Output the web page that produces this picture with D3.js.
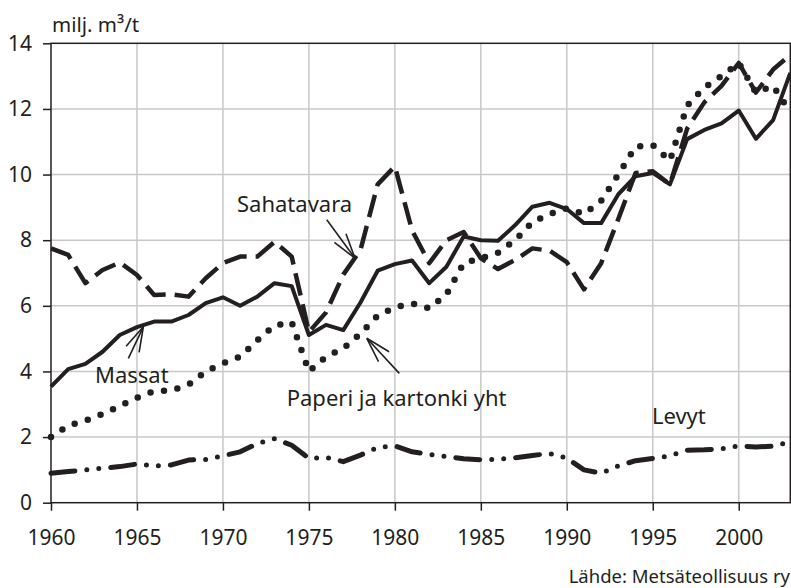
<!DOCTYPE html>
<html>
<head>
<meta charset="utf-8">
<script src="https://cdn.jsdelivr.net/npm/d3@7"></script>
<style>
  body { margin: 0; background: #fff; }
  text { font-family: "Noto Sans", sans-serif; fill: #231f20; }
</style>
</head>
<body>
<div id="chart"></div>
<script>
// vuodet ja sarjat (milj. m3 / milj. t)
const years = d3.range(1960, 2004);
const massat = [3.54, 4.07, 4.23, 4.6, 5.11, 5.35, 5.52, 5.52, 5.72, 6.08, 6.26, 6.0, 6.28, 6.69, 6.6, 5.11, 5.42, 5.26, 6.1, 7.07, 7.27, 7.38, 6.69, 7.19, 8.11, 8.0, 7.98, 8.46, 9.02, 9.14, 8.95, 8.52, 8.52, 9.4, 9.95, 10.05, 9.7, 11.08, 11.36, 11.56, 11.95, 11.09, 11.66, 13.1];
const sahatavara = [7.75, 7.55, 6.69, 7.09, 7.32, 6.94, 6.33, 6.35, 6.28, 6.84, 7.3, 7.5, 7.5, 7.95, 7.5, 5.2, 5.8, 6.95, 7.7, 9.7, 10.25, 8.3, 7.3, 8.0, 8.25, 7.45, 7.12, 7.4, 7.75, 7.68, 7.33, 6.5, 7.3, 8.65, 10.05, 10.1, 9.7, 11.4, 12.2, 12.7, 13.4, 12.5, 13.2, 13.65];
const paperi = [2.0, 2.35, 2.5, 2.7, 2.95, 3.2, 3.4, 3.42, 3.6, 4.0, 4.25, 4.45, 4.95, 5.4, 5.5, 4.0, 4.45, 4.7, 5.15, 5.7, 5.95, 6.07, 5.92, 6.35, 7.3, 7.45, 7.62, 8.0, 8.55, 8.8, 8.97, 8.8, 9.2, 10.0, 10.85, 10.9, 10.42, 12.1, 12.65, 13.0, 13.4, 12.5, 12.7, 11.9];
const levyt = [0.9, 0.95, 1.0, 1.05, 1.1, 1.18, 1.12, 1.15, 1.3, 1.32, 1.43, 1.55, 1.8, 1.95, 1.75, 1.35, 1.38, 1.25, 1.45, 1.68, 1.73, 1.55, 1.47, 1.41, 1.34, 1.31, 1.32, 1.37, 1.44, 1.5, 1.36, 1.0, 0.9, 1.12, 1.28, 1.35, 1.43, 1.6, 1.61, 1.64, 1.73, 1.7, 1.72, 1.86];

const xTicks = [1960, 1965, 1970, 1975, 1980, 1985, 1990, 1995, 2000];
const yTicks = [0, 2, 4, 6, 8, 10, 12, 14];

// nimiöt ja nuolet datan koordinaateissa
const labels = [
  { text: "Sahatavara", x: 1970.82, y: 8.86 },
  { text: "Massat", x: 1962.56, y: 3.65 },
  { text: "Paperi ja kartonki yht", x: 1973.71, y: 2.95 },
  { text: "Levyt", x: 1994.95, y: 2.39 }
];
const arrows = [
  { from: [1976.04, 8.62], to: [1977.68, 7.45] },
  { from: [1964.5, 4.4], to: [1965.37, 5.36] },
  { from: [1980.26, 3.94], to: [1978.37, 5.01] }
];

const width = 791, height = 588;
const margin = { top: 43.3, right: 0.7, bottom: 85.3, left: 51 };

const svg = d3.select("#chart").append("svg")
  .attr("width", width)
  .attr("height", height);

const x = d3.scaleLinear().domain([1960, 2003]).range([margin.left, width - margin.right]);
const y = d3.scaleLinear().domain([0, 14]).range([height - margin.bottom, margin.top]);

// ruudukko
svg.append("g")
  .selectAll("line")
  .data(xTicks.slice(1))
  .join("line")
  .attr("x1", d => x(d)).attr("x2", d => x(d))
  .attr("y1", y(0)).attr("y2", y(14))
  .attr("stroke", "#c8c8c8").attr("stroke-width", 1.5);

svg.append("g")
  .selectAll("line")
  .data(yTicks.slice(1, -1))
  .join("line")
  .attr("x1", x(1960)).attr("x2", x(2003))
  .attr("y1", d => y(d)).attr("y2", d => y(d))
  .attr("stroke", "#c8c8c8").attr("stroke-width", 1.5);

// kehys
svg.append("rect")
  .attr("x", x(1960)).attr("y", y(14))
  .attr("width", x(2003) - x(1960)).attr("height", y(0) - y(14))
  .attr("fill", "none").attr("stroke", "#231f20").attr("stroke-width", 1.5);

// akselit
const xAxis = svg.append("g")
  .attr("transform", `translate(0,${y(0)})`)
  .call(d3.axisBottom(x).tickValues(xTicks).tickFormat(d3.format("d")).tickSize(8).tickPadding(19));
const yAxis = svg.append("g")
  .attr("transform", `translate(${x(1960)},0)`)
  .call(d3.axisLeft(y).tickValues(yTicks).tickSize(8).tickPadding(11));

[xAxis, yAxis].forEach(g => {
  g.select(".domain").remove();
  g.selectAll(".tick line").attr("stroke", "#231f20").attr("stroke-width", 1.5);
  g.selectAll(".tick text").style("font-size", "21px").attr("fill", "#231f20");
});

svg.append("text")
  .attr("x", 52).attr("y", 32)
  .style("font-size", "20.5px")
  .text("milj. m³/t");

svg.append("text")
  .attr("x", 790).attr("y", 583)
  .attr("text-anchor", "end")
  .style("font-size", "18.5px")
  .text("Lähde: Metsäteollisuus ry");

// viivat
const line = d3.line().x((d, i) => x(years[i])).y(d => y(d));

const series = [
  { values: levyt, dash: "24,12,0,12,0,12", w: 5, cap: "round" },
  { values: paperi, dash: "0,13.7", w: 6.5, cap: "round" },
  { values: sahatavara, dash: "23,9", w: 4.5, cap: "butt" },
  { values: massat, dash: null, w: 4, cap: "butt" }
];

svg.append("g")
  .selectAll("path")
  .data(series)
  .join("path")
  .attr("d", d => line(d.values))
  .attr("fill", "none")
  .attr("stroke", "#231f20")
  .attr("stroke-width", d => d.w)
  .attr("stroke-linecap", d => d.cap)
  .attr("stroke-linejoin", "round")
  .attr("stroke-dasharray", d => d.dash);

// nimiöt
svg.append("g")
  .selectAll("text")
  .data(labels)
  .join("text")
  .attr("x", d => x(d.x))
  .attr("y", d => y(d.y))
  .style("font-size", "22px")
  .text(d => d.text);

// nuolet (avoin kärki)
const arrowG = svg.append("g")
  .attr("stroke", "#231f20")
  .attr("stroke-width", 1.6)
  .attr("fill", "none");

arrows.forEach(a => {
  const x0 = x(a.from[0]), y0 = y(a.from[1]);
  const x1 = x(a.to[0]), y1 = y(a.to[1]);
  const ang = Math.atan2(y1 - y0, x1 - x0);
  const len = 26, spread = 0.28;
  arrowG.append("line").attr("x1", x0).attr("y1", y0).attr("x2", x1).attr("y2", y1);
  [-spread, spread].forEach(s => {
    arrowG.append("line")
      .attr("x1", x1).attr("y1", y1)
      .attr("x2", x1 - len * Math.cos(ang + s))
      .attr("y2", y1 - len * Math.sin(ang + s));
  });
});
</script>
</body>
</html>
